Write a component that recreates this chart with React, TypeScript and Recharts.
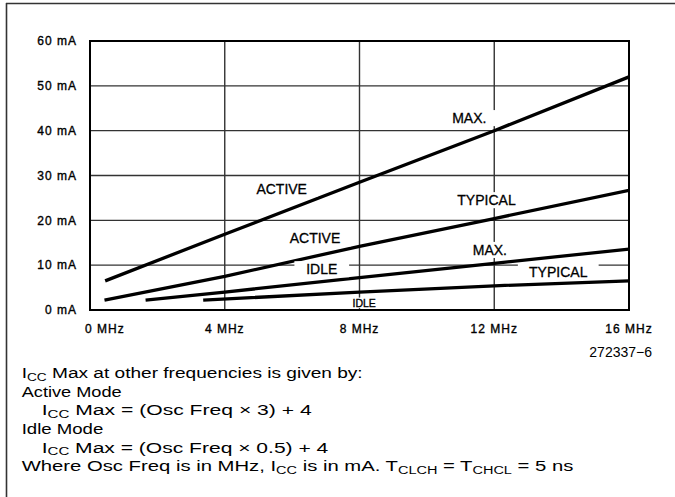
import React from "react";
import {
  LineChart,
  Line,
  XAxis,
  YAxis,
  CartesianGrid,
  ReferenceArea,
  ReferenceDot,
} from "recharts";

// ---- data ----
const xTicks = [0, 4, 8, 12, 16];
const xTickLabels = ["0 MHz", "4 MHz", "8 MHz", "12 MHz", "16 MHz"];
const yTicks = [0, 10, 20, 30, 40, 50, 60];
const yTickLabels = ["0 mA", "10 mA", "20 mA", "30 mA", "40 mA", "50 mA", "60 mA"];

const activeMaxFreq = [0.45, 4, 8, 12, 16];
const activeMaxCurrent = [6.5, 16.9, 28.5, 40, 52];
const activeTypFreq = [0.43, 4, 8, 12, 16];
const activeTypCurrent = [2.2, 7.5, 14.2, 20.4, 26.7];
const idleMaxFreq = [1.65, 4, 8, 12, 16];
const idleMaxCurrent = [2.2, 4.0, 7.2, 10.4, 13.6];
const idleTypFreq = [3.36, 8, 12, 16];
const idleTypCurrent = [2.2, 4.0, 5.4, 6.5];

const labelTexts = ["ACTIVE", "ACTIVE", "IDLE", "IDLE", "MAX.", "TYPICAL", "MAX.", "TYPICAL"];
const labelFreq = [5.69, 6.68, 6.88, 8.14, 11.26, 11.77, 11.87, 13.9];
const labelCurrent = [27.1, 16.0, 9.1, 1.6, 42.8, 24.5, 13.4, 8.55];

const figureId = "272337\u22126";

// ---- helpers ----
const zip = (xs: number[], ys: number[]) => xs.map((x, i) => ({ x, y: ys[i] }));
const series = [
  zip(activeMaxFreq, activeMaxCurrent),
  zip(activeTypFreq, activeTypCurrent),
  zip(idleMaxFreq, idleMaxCurrent),
  zip(idleTypFreq, idleTypCurrent),
];

const FONT = "'Liberation Sans', Arial, Helvetica, sans-serif";

const XTick = (props: any) => {
  const { x, y, payload } = props;
  const idx = xTicks.indexOf(payload.value);
  const first = payload.value === 0;
  return (
    <text
      x={first ? x - 5 : x}
      y={y}
      dy="0.71em"
      textAnchor={first ? "start" : "middle"}
      fontFamily={FONT}
      fontSize={12}
      letterSpacing={1}
      fill="#000"
      stroke="#000"
      strokeWidth={0.35}
    >
      {xTickLabels[idx]}
    </text>
  );
};

const YTick = (props: any) => {
  const { x, y, payload } = props;
  const idx = yTicks.indexOf(payload.value);
  return (
    <text
      x={x}
      y={y}
      dy="0.36em"
      textAnchor="end"
      fontFamily={FONT}
      fontSize={12}
      letterSpacing={1}
      fill="#000"
      stroke="#000"
      strokeWidth={0.35}
    >
      {yTickLabels[idx]}
    </text>
  );
};

const LabelMark = ({ cx, cy, text, small }: any) => {
  const fs = small ? 10.5 : 14;
  const w = text.length * fs * 0.62;
  const padX = small ? 3 : 10;
  const padY = small ? 1.5 : 3;
  const cap = fs * 0.72;
  return (
    <g>
      <rect
        x={cx - w / 2 - padX}
        y={cy - cap / 2 - padY}
        width={w + padX * 2}
        height={cap + padY * 2}
        fill="#fff"
      />
      <text
        x={cx}
        y={cy + cap / 2}
        textAnchor="middle"
        fontFamily={FONT}
        fontSize={fs}
        fill="#000"
        stroke="#000"
        strokeWidth={small ? 0.35 : 0.3}
      >
        {text}
      </text>
    </g>
  );
};

const Sub = ({ children }: any) => (
  <tspan fontSize={10} dy={2.5}>
    {children}
  </tspan>
);

export default function App() {
  return (
    <div style={{ position: "absolute", left: 0, top: 0, width: 675, height: 497, background: "#fff" }}>
      <svg
        width={675}
        height={497}
        style={{ position: "absolute", left: 0, top: 0 }}
        fontFamily={FONT}
      >
        <line x1={6} y1={3.5} x2={675} y2={3.5} stroke="#333" strokeWidth={1.6} />
        <line x1={6.5} y1={3} x2={6.5} y2={497} stroke="#333" strokeWidth={1.6} />
        <text x={652} y={357} textAnchor="end" fontSize={14} fill="#000">
          {figureId}
        </text>
        <text x={21.7} y={378} fontSize={14} fill="#000" textLength={341} lengthAdjust="spacingAndGlyphs">
          I<Sub>CC</Sub>
          <tspan dy={-2.5}> Max at other frequencies is given by:</tspan>
        </text>
        <text x={21.7} y={396.7} fontSize={14} fill="#000" textLength={100} lengthAdjust="spacingAndGlyphs">
          Active Mode
        </text>
        <text x={41.7} y={415.4} fontSize={14} fill="#000" textLength={270} lengthAdjust="spacingAndGlyphs">
          I<Sub>CC</Sub>
          <tspan dy={-2.5}> Max = (Osc Freq × 3) + 4</tspan>
        </text>
        <text x={21.7} y={434} fontSize={14} fill="#000" textLength={81.6} lengthAdjust="spacingAndGlyphs">
          Idle Mode
        </text>
        <text x={41.7} y={452.7} fontSize={14} fill="#000" textLength={286.6} lengthAdjust="spacingAndGlyphs">
          I<Sub>CC</Sub>
          <tspan dy={-2.5}> Max = (Osc Freq × 0.5) + 4</tspan>
        </text>
        <text x={21.7} y={471.4} fontSize={14} fill="#000" textLength={551.6} lengthAdjust="spacingAndGlyphs">
          Where Osc Freq is in MHz, I<Sub>CC</Sub>
          <tspan dy={-2.5}> is in mA. T</tspan>
          <Sub>CLCH</Sub>
          <tspan dy={-2.5}> = T</tspan>
          <Sub>CHCL</Sub>
          <tspan dy={-2.5}> = 5 ns</tspan>
        </text>
      </svg>
      <div style={{ position: "absolute", left: 0, top: 0 }}>
        <LineChart
          width={675}
          height={340}
          margin={{ top: 41, right: 46, left: 30, bottom: 0 }}
        >
          <CartesianGrid stroke="#333" strokeWidth={1.4} />
          <XAxis
            dataKey="x"
            type="number"
            domain={[0, 16]}
            ticks={xTicks}
            interval={0}
            axisLine={false}
            tickLine={false}
            tickSize={6}
            tickMargin={8}
            height={30}
            tick={<XTick />}
            allowDataOverflow
          />
          <YAxis
            type="number"
            domain={[0, 60]}
            ticks={yTicks}
            interval={0}
            axisLine={false}
            tickLine={false}
            tickSize={6}
            tickMargin={7}
            width={60}
            tick={<YTick />}
            allowDataOverflow
          />
          <ReferenceArea
            x1={0}
            x2={16}
            y1={0}
            y2={60}
            fill="none"
            fillOpacity={0}
            stroke="#000"
            strokeWidth={2}
            strokeOpacity={1}
          />
          {series.map((d, i) => (
            <Line
              key={i}
              data={d}
              dataKey="y"
              type="linear"
              stroke="#000"
              strokeWidth={3.3}
              dot={false}
              activeDot={false}
              isAnimationActive={false}
            />
          ))}
          {labelTexts.map((t, i) => (
            <ReferenceDot
              key={"lbl" + i}
              x={labelFreq[i]}
              y={labelCurrent[i]}
              r={0}
              ifOverflow="visible"
              shape={(p: any) => <LabelMark cx={p.cx} cy={p.cy} text={t} small={i === 3} />}
            />
          ))}
        </LineChart>
      </div>
    </div>
  );
}
